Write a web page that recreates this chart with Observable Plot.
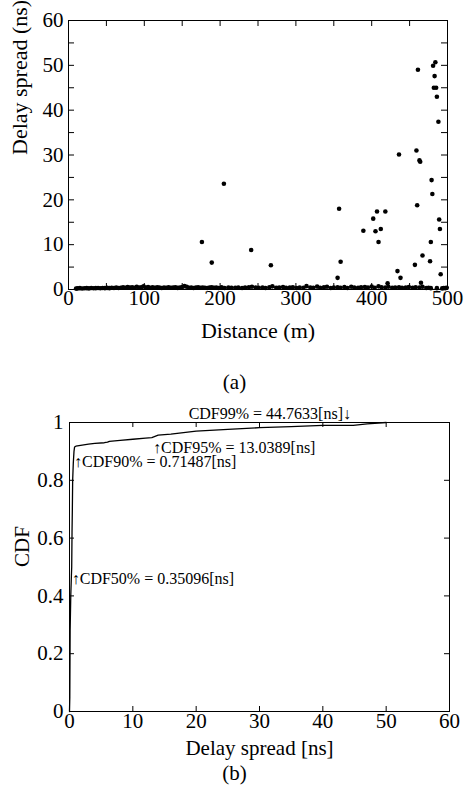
<!DOCTYPE html>
<html>
<head>
<meta charset="utf-8">
<script src="https://cdn.jsdelivr.net/npm/d3@7"></script>
<script src="https://cdn.jsdelivr.net/npm/@observablehq/plot@0.6"></script>
<style>
  html, body { margin: 0; padding: 0; background: #fff; }
  #wrap { width: 464px; height: 785px; overflow: hidden; }
  #wrap svg { display: block; }
  #wrap svg, #wrap svg text { font-family: "Liberation Serif", "Times New Roman", Times, serif !important; }
</style>
</head>
<body>
<div id="wrap"></div>
<script>
// ---------- Chart (a): delay spread vs distance ----------
// near-zero delay spreads (distance m, delay ns)
const bandPoints = [
  [10,0.2],[12,0.25],[15,0.3],[18,0.22],[21,0.28],[24,0.3],[27,0.25],[30,0.32],[33,0.27],[36,0.3],
  [39,0.35],[42,0.28],[45,0.33],[48,0.3],[51,0.36],[54,0.3],[57,0.4],[60,0.33],[63,0.45],[66,0.35],
  [69,0.38],[72,0.5],[75,0.4],[78,0.55],[81,0.42],[84,0.5],[87,0.38],[90,0.6],[93,0.45],[96,0.5],
  [99,0.7],[102,0.45],[105,0.55],[108,0.4],[111,0.48],[114,0.38],[117,0.5],[120,0.42],[123,0.35],[126,0.45],
  [129,0.4],[132,0.5],[135,0.38],[138,0.42],[141,0.48],[144,0.36],[147,0.45],[150,0.55],[153,0.75],[156,0.6],
  [159,0.4],[162,0.45],[165,0.35],[168,0.42],[171,0.5],[174,0.38],[177,0.45],[180,0.4],[183,0.35],[186,0.45],
  [189,0.5],[192,0.38],[195,0.42],[198,0.35],
  [202,0.5],[206,0.35],[211,0.45],[215,0.4],[220,0.38],[224,0.45],[229,0.35],[233,0.42],[238,0.5],[242,0.6],
  [247,0.45],[251,0.38],[256,0.42],[260,0.35],[265,0.5],[269,0.7],[274,0.4],[278,0.45],[283,0.55],[287,0.38],
  [292,0.42],[296,0.5],[301,0.35],[305,0.45],[310,0.4],[314,0.75],[319,0.45],[323,0.38],[328,0.65],[332,0.4],
  [337,0.5],[341,0.6],[346,0.35],[350,0.45],[355,0.5],[359,0.4],[364,0.55],[368,0.35],[373,0.6],[377,0.45],
  [382,0.4],[386,0.5],[391,0.55],[395,0.45],[400,0.65],[404,0.4],[409,0.7],[413,0.5],[418,0.45],[422,0.6],
  [427,0.4],[431,0.45],[436,0.5],[440,0.4],[445,0.45],[449,0.55],[454,0.4],[458,0.5],[463,0.45],[467,0.6],
  [472,0.35],[475,0.4],[478,0.3],[486,0.3],[493,0.25],[495,0.35],[497,0.3],[499,0.4]
];
// larger delay spreads (distance m, delay ns)
const outlierPoints = [
  [176,10.6],[189,6.0],[205,23.6],[241,8.8],[267,5.4],[355,2.6],[357,18.0],[359,6.2],
  [389,13.1],[402,15.8],[405,13.0],[407,17.4],[409,10.6],[412,13.5],[418,17.4],[421,1.4],
  [434,4.1],[436,30.1],[438,2.6],[457,5.5],[459,31.0],[460,18.8],[461,49.0],[463,28.8],
  [464,28.5],[465,1.5],[467,7.6],[477,6.3],[478,10.6],[479,24.4],[480,21.3],[481,49.9],
  [482,45.0],[483,47.6],[484,50.7],[485,45.0],[486,43.0],[488,37.4],[489,15.6],[490,13.5],[491,3.4]
];
const aXLabels = [0, 100, 200, 300, 400, 500];
const aXTicks = [0, 50, 100, 150, 200, 250, 300, 350, 400, 450, 500];
const aYLabels = [0, 10, 20, 30, 40, 50, 60];
const aYTicks = [0, 5, 10, 15, 20, 25, 30, 35, 40, 45, 50, 55, 60];

// ---------- Chart (b): CDF of delay spread ----------
const cdfDelay = [0, 0.05, 0.1, 0.2, 0.3, 0.35, 0.4, 0.45, 0.5, 0.6, 0.71, 0.8, 1.0, 2, 3, 4, 5.5, 6, 6.3, 8, 10, 12, 13.0, 13.5, 14, 16, 18, 20, 25, 30, 35, 40, 44.8, 47, 50];
const cdfValue = [0, 0.05, 0.28, 0.4, 0.47, 0.5, 0.62, 0.7, 0.8, 0.86, 0.9, 0.915, 0.918, 0.922, 0.925, 0.928, 0.93, 0.932, 0.935, 0.938, 0.942, 0.946, 0.948, 0.952, 0.956, 0.96, 0.965, 0.97, 0.976, 0.982, 0.986, 0.99, 0.99, 0.995, 1.0];
const annoLabel = ["\u2191CDF50% = 0.35096[ns]", "\u2191CDF90% = 0.71487[ns]", "\u2191CDF95% = 13.0389[ns]", "CDF99% = 44.7633[ns]\u2193"];
const annoDelay = [0.35096, 0.71487, 13.0389, 44.7633];
const annoCdf = [0.5, 0.9, 0.95, 0.99];
const bXLabels = [0, 10, 20, 30, 40, 50, 60];
const bYLabels = [0, 0.2, 0.4, 0.6, 0.8, 1];

const FONT = '"Liberation Serif", "Times New Roman", Times, serif';
const baseStyle = {fontFamily: FONT, fontSize: "21px", color: "black", background: "transparent", overflow: "visible"};

// ---- chart (a) ----
const A = {width: 464, height: 396, mt: 20, mb: 107, ml: 68, mr: 17};
const aPW = A.width - A.ml - A.mr, aPH = A.height - A.mt - A.mb;
const tickLen = 6;
const chartA = Plot.plot({
  width: A.width, height: A.height,
  marginTop: A.mt, marginBottom: A.mb, marginLeft: A.ml, marginRight: A.mr,
  style: baseStyle,
  x: {domain: [0, 500]},
  y: {domain: [0, 60]},
  marks: [
    Plot.frame({stroke: "black", strokeWidth: 1}),
    Plot.tickX(aXTicks, {x: d => d, insetTop: aPH - tickLen, stroke: "black"}),
    Plot.tickX(aXTicks, {x: d => d, insetBottom: aPH - tickLen, stroke: "black"}),
    Plot.tickY(aYTicks, {y: d => d, insetRight: aPW - tickLen, stroke: "black"}),
    Plot.tickY(aYTicks, {y: d => d, insetLeft: aPW - tickLen, stroke: "black"}),
    Plot.axisX(aXLabels, {tickSize: 0, tickPadding: 1, label: null, fontSize: 21, fontFamily: FONT}),
    Plot.axisY(aYLabels, {tickSize: 0, tickPadding: 5, label: null, fontSize: 21, fontFamily: FONT}),
    Plot.dot(bandPoints, {x: d => d[0], y: d => d[1], r: 2.3, fill: "black", stroke: null}),
    Plot.dot(outlierPoints, {x: d => d[0], y: d => d[1], r: 2.3, fill: "black", stroke: null}),
    Plot.text(["Distance (m)"], {text: d => d, frameAnchor: "bottom", lineAnchor: "bottom", dy: 48, fontSize: 22, fontFamily: FONT}),
    Plot.text(["Delay spread (ns)"], {text: d => d, frameAnchor: "left", rotate: -90, dx: -49, fontSize: 22, fontFamily: FONT}),
    Plot.text(["(a)"], {text: d => d, frameAnchor: "bottom", lineAnchor: "bottom", dy: 99, dx: 234 - (A.ml + aPW / 2), fontSize: 21, fontFamily: FONT})
  ]
});

// ---- chart (b) ----
const B = {width: 464, height: 389, mt: 26, mb: 74, ml: 69, mr: 15};
const bPW = B.width - B.ml - B.mr, bPH = B.height - B.mt - B.mb;
const bTickLen = 5;
const cdfData = cdfDelay.map((d, i) => ({delay: d, cdf: cdfValue[i]}));
const annoData = annoLabel.map((t, i) => ({label: t, delay: annoDelay[i], cdf: annoCdf[i]}));
const annoOffsets = [
  {dx: 0, dy: 17, anchor: "start"},
  {dx: 0, dy: 16, anchor: "start"},
  {dx: 1, dy: 16, anchor: "start"},
  {dx: -2, dy: -6, anchor: "end"}
];
const chartB = Plot.plot({
  width: B.width, height: B.height,
  marginTop: B.mt, marginBottom: B.mb, marginLeft: B.ml, marginRight: B.mr,
  style: baseStyle,
  x: {domain: [0, 60]},
  y: {domain: [0, 1]},
  marks: [
    Plot.frame({stroke: "black", strokeWidth: 1}),
    Plot.tickX(bXLabels, {x: d => d, insetTop: bPH - bTickLen, stroke: "black"}),
    Plot.tickX(bXLabels, {x: d => d, insetBottom: bPH - bTickLen, stroke: "black"}),
    Plot.tickY(bYLabels, {y: d => d, insetRight: bPW - bTickLen, stroke: "black"}),
    Plot.tickY(bYLabels, {y: d => d, insetLeft: bPW - bTickLen, stroke: "black"}),
    Plot.axisX(bXLabels, {tickSize: 0, tickPadding: 2, label: null, fontSize: 21, fontFamily: FONT}),
    Plot.axisY(bYLabels, {tickSize: 0, tickPadding: 6, label: null, fontSize: 21, fontFamily: FONT, tickFormat: d => String(d)}),
    Plot.line(cdfData, {x: "delay", y: "cdf", stroke: "black", strokeWidth: 1.3}),
    ...annoData.map((a, i) => Plot.text([a], {
      x: "delay", y: "cdf", text: "label",
      textAnchor: annoOffsets[i].anchor, lineAnchor: "bottom",
      dx: annoOffsets[i].dx, dy: annoOffsets[i].dy, fontSize: 16, fontFamily: FONT
    })),
    Plot.text(["Delay spread [ns]"], {text: d => d, frameAnchor: "bottom", lineAnchor: "bottom", dy: 43, fontSize: 21, fontFamily: FONT}),
    Plot.text(["CDF"], {text: d => d, frameAnchor: "left", rotate: -90, dx: -47, fontSize: 21, fontFamily: FONT}),
    Plot.text(["(b)"], {text: d => d, frameAnchor: "bottom", lineAnchor: "bottom", dy: 68, dx: 234 - (B.ml + bPW / 2), fontSize: 21, fontFamily: FONT})
  ]
});

const wrap = document.getElementById("wrap");
wrap.appendChild(chartA);
wrap.appendChild(chartB);
</script>
</body>
</html>
